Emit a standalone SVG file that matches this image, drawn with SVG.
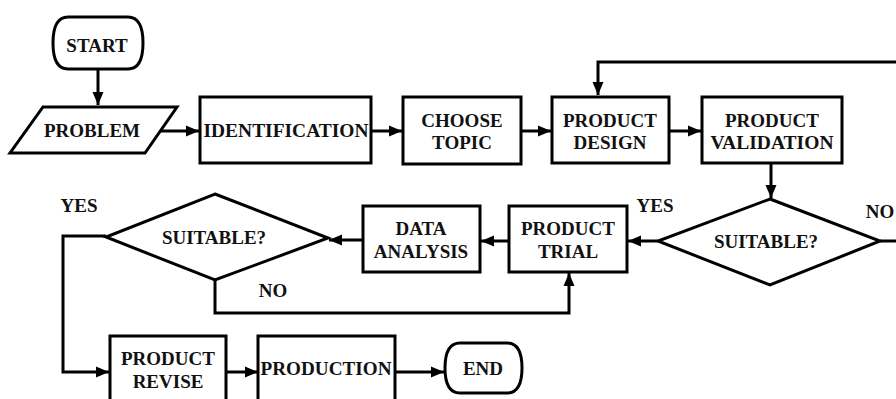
<svg xmlns="http://www.w3.org/2000/svg" width="896" height="399" viewBox="0 0 896 399">
<style>
.s{fill:#fff;stroke:#000;stroke-width:3;stroke-linejoin:miter}
.t{font-family:'Liberation Serif',Tinos,'Times New Roman','DejaVu Serif','Noto Serif',serif;font-weight:700;font-size:19px;fill:#111;text-anchor:middle}
.c{fill:none;stroke:#000;stroke-width:3}
</style>
<defs>
<marker id="ah" markerUnits="userSpaceOnUse" markerWidth="14" markerHeight="14" viewBox="0 0 14 14" refX="13" refY="7" orient="auto">
<path d="M0,1.5 L13,7 L0,12.5 Z" fill="#000"/>
</marker>
</defs>
<rect width="896" height="399" fill="#fff"/>
<g id="connectors">
<path class="c" d="M98,69 V105" marker-end="url(#ah)"/>
<path class="c" d="M160,131 H199" marker-end="url(#ah)"/>
<path class="c" d="M371,131 H402" marker-end="url(#ah)"/>
<path class="c" d="M521,131 H551" marker-end="url(#ah)"/>
<path class="c" d="M669,131 H701" marker-end="url(#ah)"/>
<path class="c" d="M896,62 H598 V95" marker-end="url(#ah)"/>
<path class="c" d="M771,163 V198" marker-end="url(#ah)"/>
<path class="c" d="M658,241 H628" marker-end="url(#ah)"/>
<path class="c" d="M509,241 H481" marker-end="url(#ah)"/>
<path class="c" d="M363,240 H329" marker-end="url(#ah)"/>
<path class="c" d="M106,236 H63 V372 H109" marker-end="url(#ah)"/>
<path class="c" d="M215,280 V313 H569 V273" marker-end="url(#ah)"/>
<path class="c" d="M880,241 H896"/>
<path class="c" d="M226,372 H258" marker-end="url(#ah)"/>
<path class="c" d="M395,372 H444" marker-end="url(#ah)"/>
</g>
<g id="start">
<path class="s" d="M68,17 H128 C140,17 143,30 143,43 C143,56 140,69 128,69 H68 C56,69 53,56 53,43 C53,30 56,17 68,17 Z"/>
<text class="t" x="97" y="52">START</text>
</g>
<g id="problem">
<polygon class="s" points="43,107 177,107 145,153 10,153"/>
<text class="t" x="92" y="137">PROBLEM</text>
</g>
<g id="identification">
<rect class="s" x="200" y="97" width="171" height="66"/>
<text class="t" x="286" y="137" textLength="165" lengthAdjust="spacingAndGlyphs">IDENTIFICATION</text>
</g>
<g id="choose-topic">
<rect class="s" x="403" y="97" width="118" height="67"/>
<text class="t" x="462" y="127">CHOOSE</text>
<text class="t" x="462" y="149">TOPIC</text>
</g>
<g id="product-design">
<rect class="s" x="552" y="97" width="117" height="66"/>
<text class="t" x="610" y="127">PRODUCT</text>
<text class="t" x="610" y="149">DESIGN</text>
</g>
<g id="product-validation">
<rect class="s" x="702" y="97" width="140" height="66"/>
<text class="t" x="772" y="127">PRODUCT</text>
<text class="t" x="772" y="149" textLength="123" lengthAdjust="spacingAndGlyphs">VALIDATION</text>
</g>
<g id="suitable-right">
<polygon class="s" points="770,199 880,241 770,285 658,241"/>
<text class="t" x="766" y="248">SUITABLE?</text>
</g>
<g id="product-trial">
<rect class="s" x="509" y="206" width="118" height="66"/>
<text class="t" x="568" y="235">PRODUCT</text>
<text class="t" x="568" y="258">TRIAL</text>
</g>
<g id="data-analysis">
<rect class="s" x="363" y="206" width="117" height="66"/>
<text class="t" x="421" y="235">DATA</text>
<text class="t" x="421" y="258">ANALYSIS</text>
</g>
<g id="suitable-left">
<polygon class="s" points="215,194 328,238 215,280 106,237"/>
<text class="t" x="214" y="244">SUITABLE?</text>
</g>
<g id="labels">
<text class="t" x="79" y="212">YES</text>
<text class="t" x="273" y="297">NO</text>
<text class="t" x="655" y="212">YES</text>
<text class="t" x="880" y="218">NO</text>
</g>
<g id="product-revise">
<rect class="s" x="110" y="336" width="116" height="70"/>
<text class="t" x="168" y="365">PRODUCT</text>
<text class="t" x="168" y="388">REVISE</text>
</g>
<g id="production">
<rect class="s" x="258" y="336" width="137" height="70"/>
<text class="t" x="326" y="375" textLength="131" lengthAdjust="spacingAndGlyphs">PRODUCTION</text>
</g>
<g id="end">
<path class="s" d="M460,343 H507 C519,343 522,356 522,368 C522,380 519,393 507,393 H460 C448,393 445,380 445,368 C445,356 448,343 460,343 Z"/>
<text class="t" x="483" y="375">END</text>
</g>
</svg>
